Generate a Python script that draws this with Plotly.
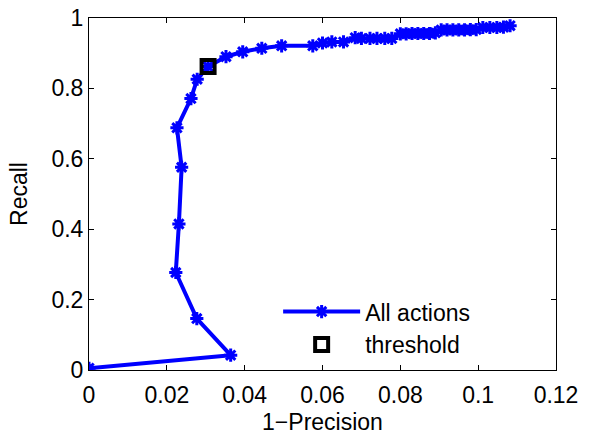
import plotly.graph_objects as go

# 1-Precision (x) and Recall (y) for "All actions"
one_minus_precision = [
    0.000, 0.0364, 0.0277, 0.0223, 0.0231, 0.0238, 0.0226, 0.0262, 0.0278,
    0.0306, 0.0352, 0.0395, 0.0444, 0.0495, 0.0575, 0.0600, 0.0624, 0.0654,
    0.0684, 0.0700, 0.0722, 0.0740, 0.0760, 0.0778, 0.0800, 0.0815, 0.0830,
    0.0845, 0.0860, 0.0875, 0.0890, 0.0905, 0.0920, 0.0935, 0.0950, 0.0965,
    0.0980, 0.0995, 0.1012, 0.1030, 0.1048, 0.1065, 0.1082,
]
recall = [
    0.005, 0.042, 0.146, 0.277, 0.415, 0.576, 0.688, 0.771, 0.826,
    0.862, 0.890, 0.904, 0.914, 0.921, 0.921, 0.929, 0.932, 0.932,
    0.944, 0.942, 0.942, 0.942, 0.942, 0.942, 0.955, 0.955, 0.956,
    0.956, 0.956, 0.956, 0.958, 0.966, 0.966, 0.966, 0.966, 0.966,
    0.967, 0.967, 0.973, 0.973, 0.973, 0.974, 0.978,
]

threshold_x = [0.0306]
threshold_y = [0.862]

x_ticks = [0, 0.02, 0.04, 0.06, 0.08, 0.1, 0.12]
x_tick_labels = ["0", "0.02", "0.04", "0.06", "0.08", "0.1", "0.12"]
y_ticks = [0, 0.2, 0.4, 0.6, 0.8, 1]
y_tick_labels = ["0", "0.2", "0.4", "0.6", "0.8", "1"]

FONT = "Liberation Sans, Arial, Helvetica, sans-serif"
FS = 23

fig = go.Figure()
fig.add_trace(go.Scatter(
    x=one_minus_precision, y=recall, mode="lines+markers", name="All actions",
    line=dict(color="#0000FF", width=4),
    marker=dict(symbol="asterisk-open", size=11, color="#0000FF",
                line=dict(color="#0000FF", width=3)),
))
fig.add_trace(go.Scatter(
    x=threshold_x, y=threshold_y, mode="markers", name="threshold",
    marker=dict(symbol="square-open", size=13, color="black",
                line=dict(color="black", width=4)),
))

axis_common = dict(
    showline=True, linecolor="black", linewidth=1, mirror="ticks",
    ticks="inside", ticklen=5, tickcolor="black", tickwidth=1,
    showgrid=False, zeroline=False, automargin=False,
    tickfont=dict(family=FONT, size=FS, color="black"),
)

fig.update_layout(
    width=589, height=435,
    margin=dict(l=89, r=33, t=18, b=65),
    paper_bgcolor="white", plot_bgcolor="white",
    font=dict(family=FONT, size=FS, color="black"),
    xaxis=dict(range=[0, 0.12], tickvals=x_ticks, ticktext=x_tick_labels,
               ticklabelstandoff=4,
               title=dict(text="1\u2212Precision", font=dict(size=FS), standoff=12),
               **axis_common),
    yaxis=dict(range=[0, 1], tickvals=y_ticks, ticktext=y_tick_labels,
               title=dict(text="Recall", font=dict(size=FS), standoff=17),
               **axis_common),
    legend=dict(x=0.405, y=0.227, xanchor="left", yanchor="top",
                bgcolor="rgba(0,0,0,0)", borderwidth=0,
                font=dict(family=FONT, size=FS), itemwidth=77,
                tracegroupgap=0),
    showlegend=True,
)

fig.write_html("out.html",
               config={"displayModeBar": False},
               post_script="document.body.style.margin='0';document.body.style.padding='0';")
